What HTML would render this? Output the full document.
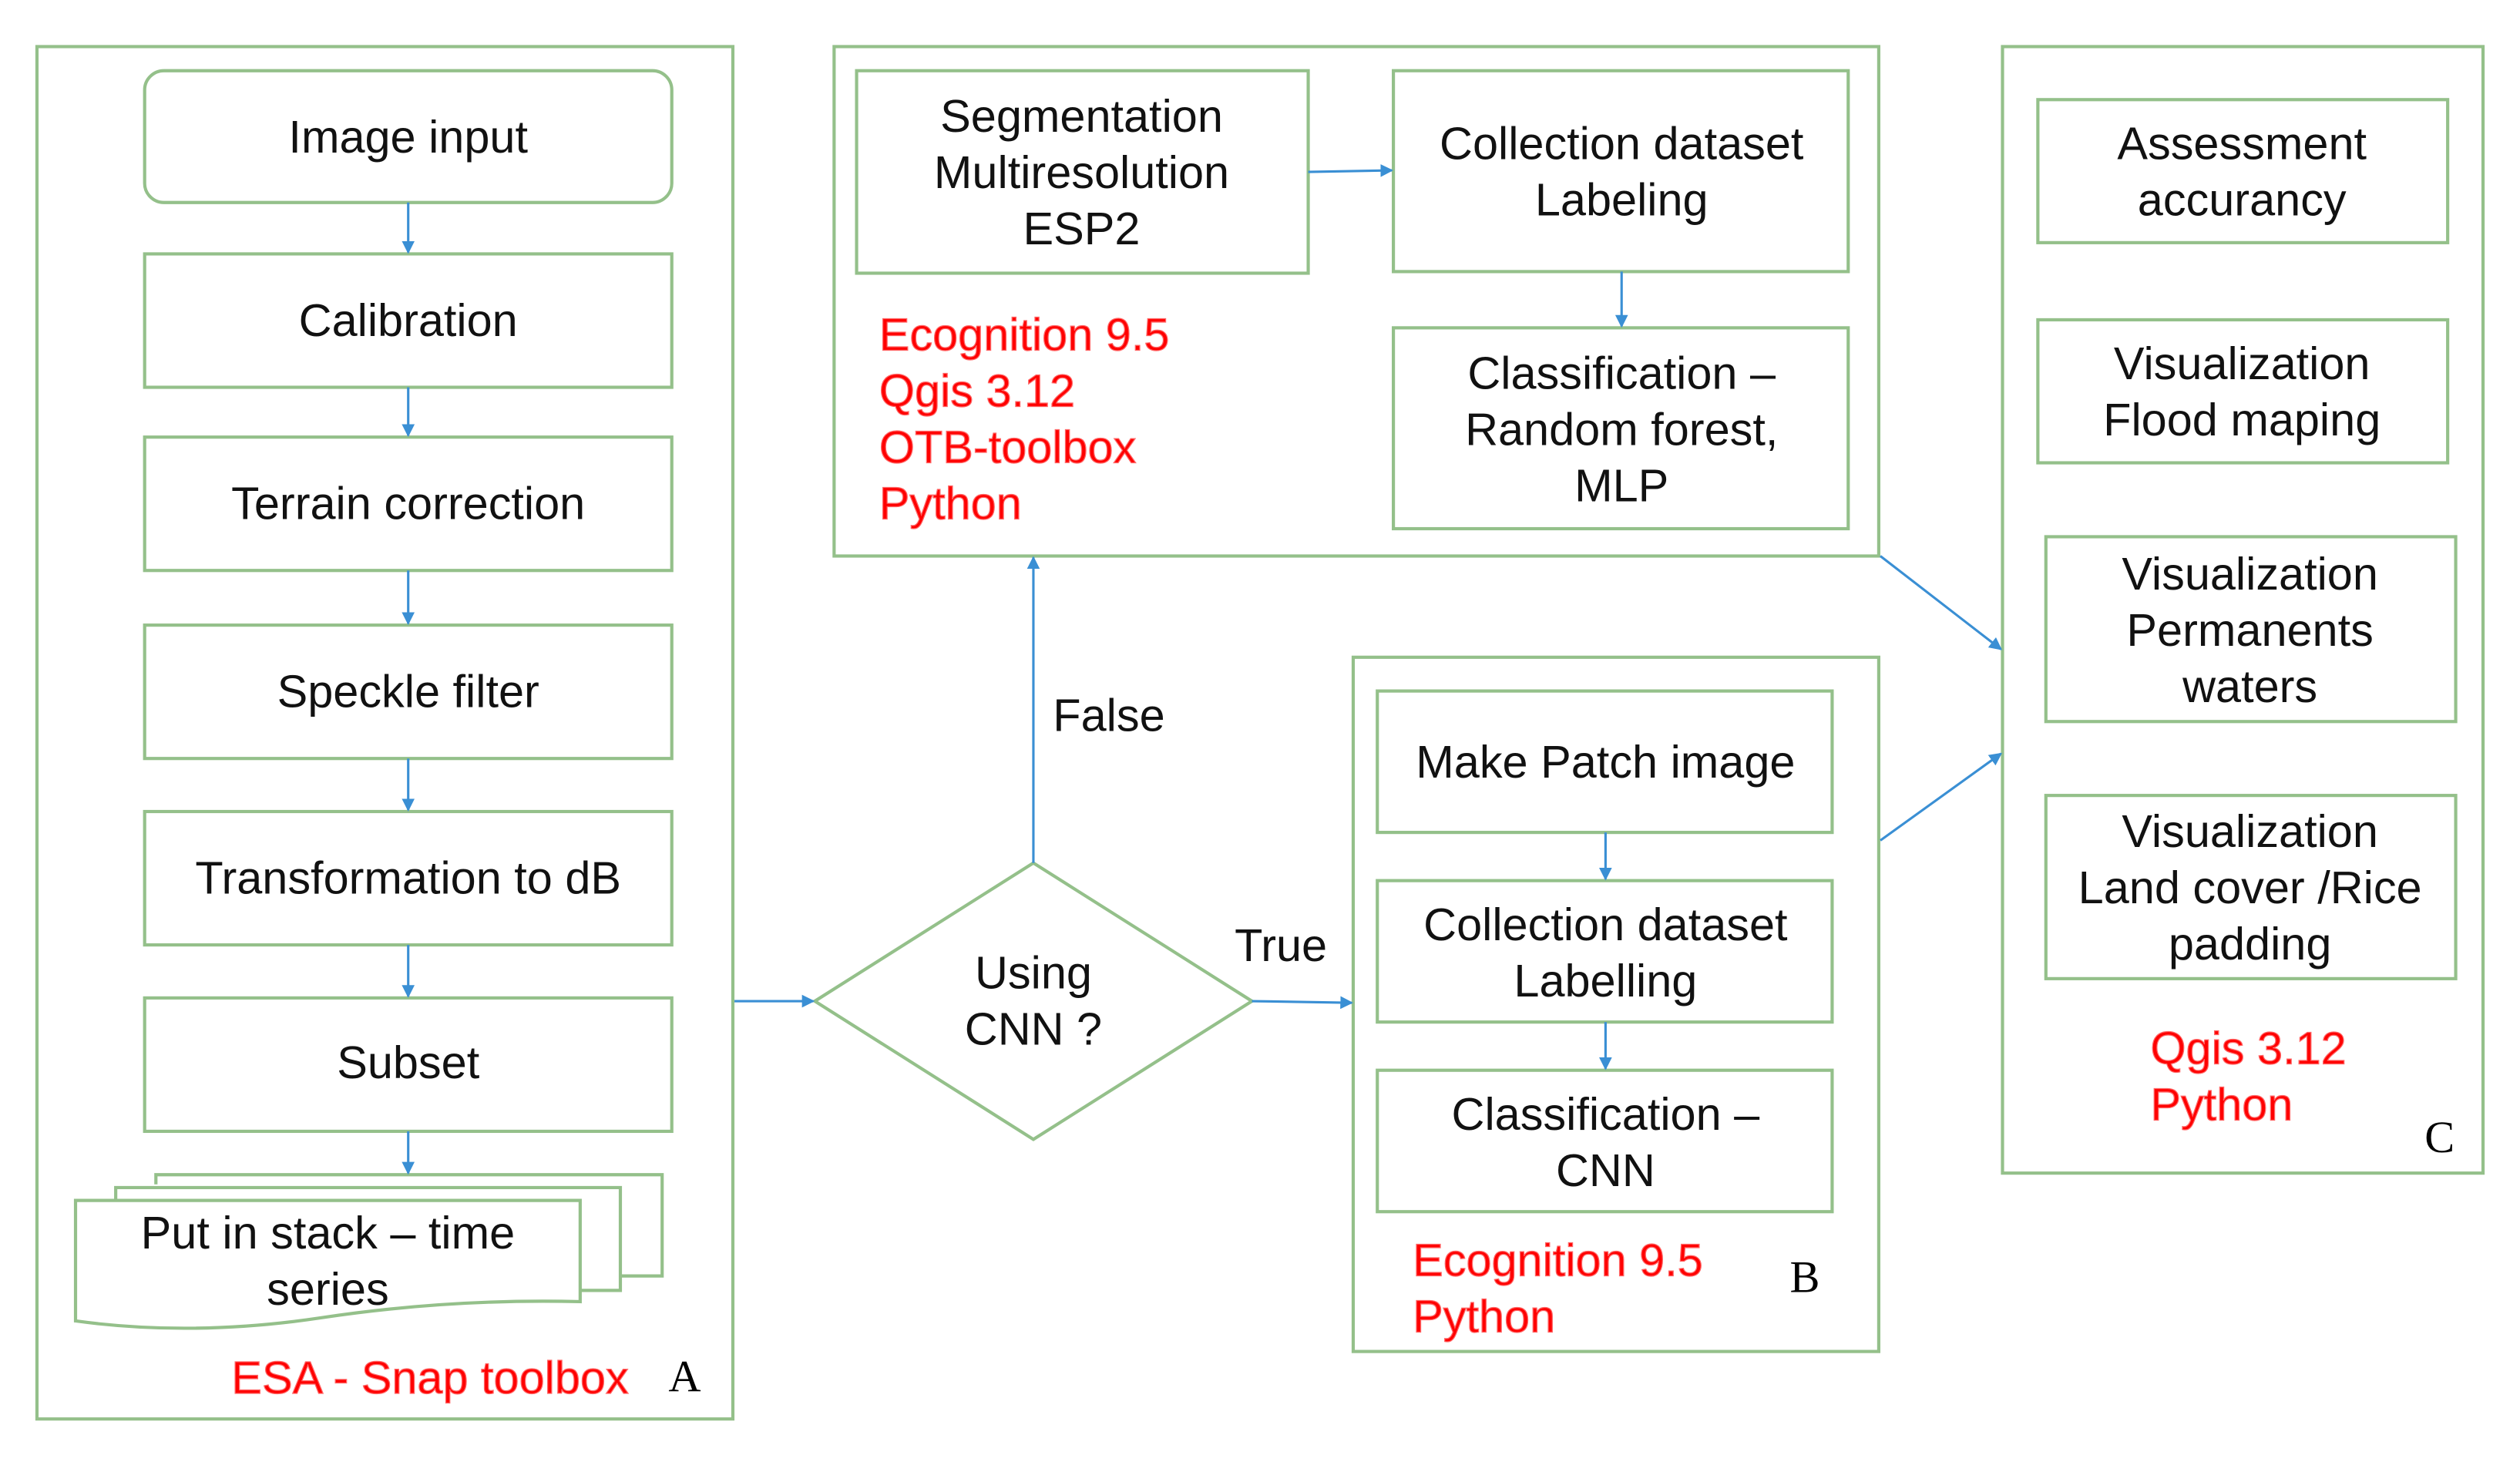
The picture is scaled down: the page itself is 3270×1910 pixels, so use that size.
<!DOCTYPE html>
<html><head><meta charset="utf-8"><style>
html,body{margin:0;padding:0;background:#fff}
svg{display:block}
text{font-family:"Liberation Sans",sans-serif;font-size:28.5px;fill:#111;text-anchor:middle}
.r{fill:#f00;text-anchor:start;font-size:28.5px;stroke:#f66;stroke-width:0.6px}
.s{font-family:"Liberation Serif",serif;font-size:28px;fill:#000;stroke:none}
</style></head><body>
<svg width="3270" height="1910" viewBox="0 0 1568 916" preserveAspectRatio="none" xmlns="http://www.w3.org/2000/svg">
<defs><marker id="a" markerWidth="8" markerHeight="8" refX="7" refY="4" orient="auto" markerUnits="userSpaceOnUse"><path d="M0,0 L8,4 L0,8 z" fill="#3a8fd4"/></marker></defs>
<g fill="none" stroke="#94c08a" stroke-width="2">
<rect x="23" y="29" width="433" height="854"/>
<rect x="90" y="44" width="328" height="82" rx="12"/>
<rect x="90" y="158" width="328" height="83"/>
<rect x="90" y="272" width="328" height="83"/>
<rect x="90" y="389" width="328" height="83"/>
<rect x="90" y="505" width="328" height="83"/>
<rect x="90" y="621" width="328" height="83"/>
<path d="M97,737 V731 H412 V794 H386"/>
<path d="M72,747 V739 H386 V803 H361"/>
<path d="M47,747 H361 V810 Q280,808 200,820 Q120,832 47,822 Z" fill="#fff"/>
<rect x="519" y="29" width="650" height="317"/>
<rect x="533" y="44" width="281" height="126"/>
<rect x="867" y="44" width="283" height="125"/>
<rect x="867" y="204" width="283" height="125"/>
<rect x="842" y="409" width="327" height="432"/>
<rect x="857" y="430" width="283" height="88"/>
<rect x="857" y="548" width="283" height="88"/>
<rect x="857" y="666" width="283" height="88"/>
<rect x="1246" y="29" width="299" height="701"/>
<rect x="1268" y="62" width="255" height="89"/>
<rect x="1268" y="199" width="255" height="89"/>
<rect x="1273" y="334" width="255" height="115"/>
<rect x="1273" y="495" width="255" height="114"/>
<path d="M643,537 L779,623 L643,709 L507,623 Z"/>
</g>
<g stroke="#3a8fd4" stroke-width="1.5" marker-end="url(#a)">
<line x1="254" y1="126" x2="254" y2="157"/>
<line x1="254" y1="241" x2="254" y2="271"/>
<line x1="254" y1="355" x2="254" y2="388"/>
<line x1="254" y1="472" x2="254" y2="504"/>
<line x1="254" y1="588" x2="254" y2="620"/>
<line x1="254" y1="704" x2="254" y2="730"/>
<line x1="457" y1="623" x2="506" y2="623"/>
<line x1="643" y1="537" x2="643" y2="347"/>
<line x1="779" y1="623" x2="841" y2="624"/>
<line x1="814" y1="107" x2="866" y2="106"/>
<line x1="1009" y1="169" x2="1009" y2="203"/>
<line x1="999" y1="518" x2="999" y2="547"/>
<line x1="999" y1="636" x2="999" y2="665"/>
<line x1="1170" y1="346" x2="1245" y2="404"/>
<line x1="1170" y1="523" x2="1245" y2="469"/>
</g>
<text x="254" y="95">Image input</text>
<text x="254" y="209">Calibration</text>
<text x="254" y="323">Terrain correction</text>
<text x="254" y="440">Speckle filter</text>
<text x="254" y="556">Transformation to dB</text>
<text x="254" y="671">Subset</text>
<text x="204" y="777">Put in stack – time</text>
<text x="204" y="812">series</text>
<text class="r" x="144" y="867">ESA - Snap toolbox</text>
<text class="s" x="426" y="866">A</text>
<text x="673" y="82">Segmentation</text>
<text x="673" y="117">Multiresolution</text>
<text x="673" y="152">ESP2</text>
<text x="1009" y="99">Collection dataset</text>
<text x="1009" y="134">Labeling</text>
<text x="1009" y="242">Classification –</text>
<text x="1009" y="277">Random forest,</text>
<text x="1009" y="312">MLP</text>
<text class="r" x="547" y="218">Ecognition 9.5</text>
<text class="r" x="547" y="253">Qgis 3.12</text>
<text class="r" x="547" y="288">OTB-toolbox</text>
<text class="r" x="547" y="323">Python</text>
<text x="690" y="455">False</text>
<text x="797" y="598">True</text>
<text x="643" y="615">Using</text>
<text x="643" y="650">CNN ?</text>
<text x="999" y="484">Make Patch image</text>
<text x="999" y="585">Collection dataset</text>
<text x="999" y="620">Labelling</text>
<text x="999" y="703">Classification –</text>
<text x="999" y="738">CNN</text>
<text class="r" x="879" y="794">Ecognition 9.5</text>
<text class="r" x="879" y="829">Python</text>
<text class="s" x="1123" y="804">B</text>
<text x="1395" y="99">Assessment</text>
<text x="1395" y="134">accurancy</text>
<text x="1395" y="236">Visualization</text>
<text x="1395" y="271">Flood maping</text>
<text x="1400" y="367">Visualization</text>
<text x="1400" y="402">Permanents</text>
<text x="1400" y="437">waters</text>
<text x="1400" y="527">Visualization</text>
<text x="1400" y="562">Land cover /Rice</text>
<text x="1400" y="597">padding</text>
<text class="r" x="1338" y="662">Qgis 3.12</text>
<text class="r" x="1338" y="697">Python</text>
<text class="s" x="1518" y="717">C</text>
</svg>
</body></html>
